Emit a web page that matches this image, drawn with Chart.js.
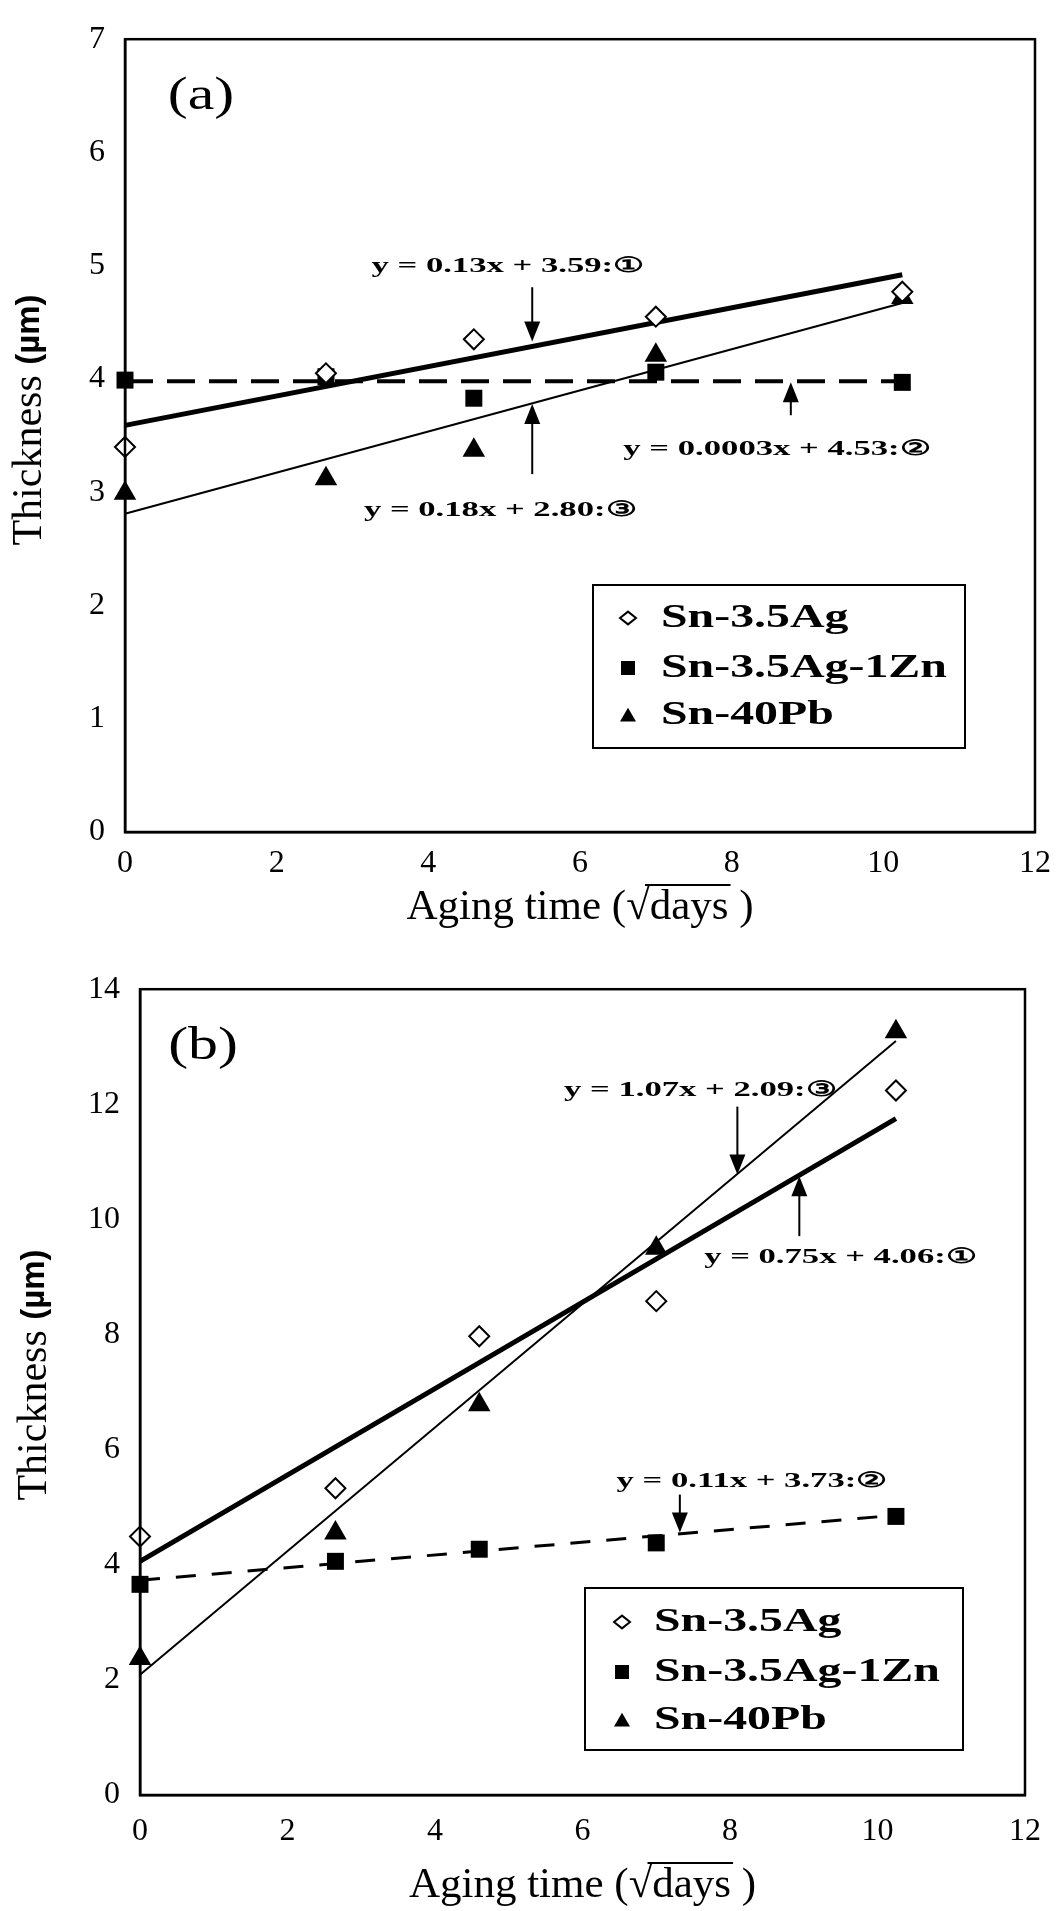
<!DOCTYPE html>
<html>
<head>
<meta charset="utf-8">
<script src="https://cdn.jsdelivr.net/npm/chart.js@4.4.1/dist/chart.umd.min.js"></script>
<style>
  html, body { margin: 0; padding: 0; background: #fff; }
  body { width: 1063px; height: 1911px; position: relative; overflow: hidden; }
  #wrapA { position: absolute; left: 0; top: 0; width: 1063px; height: 950px; }
  #wrapB { position: absolute; left: 0; top: 950px; width: 1063px; height: 961px; }
</style>
</head>
<body>
<div id="wrapA"><canvas id="chartA" width="1063" height="950"></canvas></div>
<div id="wrapB"><canvas id="chartB" width="1063" height="961"></canvas></div>
<script>
// aging time in sqrt(days): 0, 7, 21, 49, 105 days
const agingTime = [0, 2.65, 4.6, 7.0, 10.25];
const alloys = ["Sn-3.5Ag", "Sn-3.5Ag-1Zn", "Sn-40Pb"];
const xTicks = [0, 2, 4, 6, 8, 10, 12];
const yTicksA = [0, 1, 2, 3, 4, 5, 6, 7];
const yTicksB = [0, 2, 4, 6, 8, 10, 12, 14];

// (a) thickness, um
const agA = [3.40, 4.05, 4.35, 4.55, 4.77];
const znA = [3.99, 4.02, 3.83, 4.06, 3.97];
const pbA = [2.99, 3.12, 3.37, 4.21, 4.72];
// (b) thickness, um
const agB = [4.49, 5.33, 7.97, 8.58, 12.24];
const znB = [3.66, 4.06, 4.27, 4.38, 4.84];
const pbB = [2.37, 4.55, 6.78, 9.50, 13.26];

// regression lines, read at the two ends
const fitX = [0, 10.25];
const fitAgA = [3.59, 4.92];
const fitZnA = [3.98, 3.98];
const fitPbA = [2.81, 4.67];
const fitAgB = [4.06, 11.75];
const fitZnB = [3.73, 4.86];
const fitPbB = [2.09, 13.10];

const eqA = ["y = 0.13x + 3.59:①", "y = 0.0003x + 4.53:②", "y = 0.18x + 2.80:③"];
const eqB = ["y = 0.75x + 4.06:①", "y = 0.11x + 3.73:②", "y = 1.07x + 2.09:③"];

// label centre (x, y) and arrow (x, from, to) in data units
const notesA = [
  { t: eqA[0], lx: 5.05, ly: 4.99, ax: 5.37, from: 4.81, to: 4.33 },
  { t: eqA[1], lx: 8.60, ly: 3.38, ax: 8.78, from: 3.68, to: 3.97 },
  { t: eqA[2], lx: 4.95, ly: 2.84, ax: 5.37, from: 3.16, to: 3.78 }
];
const notesB = [
  { t: eqB[0], lx: 9.50, ly: 9.33, ax: 8.94, from: 9.71, to: 10.75 },
  { t: eqB[1], lx: 8.30, ly: 5.44, ax: 7.32, from: 5.22, to: 4.56 },
  { t: eqB[2], lx: 7.60, ly: 12.24, ax: 8.10, from: 11.96, to: 10.78 }
];

const pts = a => agingTime.map((v, i) => ({ x: v, y: a[i] }));
const ends = a => fitX.map((v, i) => ({ x: v, y: a[i] }));

function stretchText(ctx, str, x, y, font, sx, align) {
  ctx.save();
  ctx.font = font;
  ctx.textBaseline = "middle";
  ctx.textAlign = "left";
  const w = ctx.measureText(str).width * sx;
  const x0 = align === "center" ? x - w / 2 : align === "right" ? x - w : x;
  ctx.translate(x0, y);
  ctx.scale(sx, 1);
  ctx.fillStyle = "#000";
  ctx.fillText(str, 0, 0);
  ctx.restore();
}

function marker(ctx, kind, x, y, s) {
  ctx.beginPath();
  if (kind === 0) {
    ctx.moveTo(x - s, y); ctx.lineTo(x, y - s * 0.8); ctx.lineTo(x + s, y); ctx.lineTo(x, y + s * 0.8); ctx.closePath();
    ctx.fillStyle = "#fff"; ctx.fill(); ctx.lineWidth = 2; ctx.strokeStyle = "#000"; ctx.stroke();
  } else if (kind === 1) {
    ctx.fillStyle = "#000"; ctx.fillRect(x - s, y - s, 2 * s, 2 * s);
  } else {
    ctx.moveTo(x - s, y + s * 0.8); ctx.lineTo(x, y - s * 0.9); ctx.lineTo(x + s, y + s * 0.8); ctx.closePath();
    ctx.fillStyle = "#000"; ctx.fill();
  }
}

const extras = {
  id: "extras",
  afterDraw(chart, args, o) {
    const { ctx, chartArea: a, scales: { x, y } } = chart;
    ctx.save();
    // frame round the plot
    ctx.strokeStyle = "#000";
    ctx.lineWidth = 2.5;
    ctx.strokeRect(a.left, a.top, a.right - a.left, a.bottom - a.top);

    // panel tag
    stretchText(ctx, o.panel, o.panelX, o.panelY, '46px "Liberation Serif"', 1.3, "center");

    // equations + arrows
    o.notes.forEach(n => {
      stretchText(ctx, n.t, x.getPixelForValue(n.lx), y.getPixelForValue(n.ly),
        'bold 21px "Liberation Serif", "DejaVu Serif"', 1.65, "center");
      const px = x.getPixelForValue(n.ax);
      const y0 = y.getPixelForValue(n.from), y1 = y.getPixelForValue(n.to);
      const dir = y1 > y0 ? 1 : -1;
      ctx.beginPath();
      ctx.moveTo(px, y0);
      ctx.lineTo(px, y1 - dir * 14);
      ctx.lineWidth = 2;
      ctx.strokeStyle = "#000";
      ctx.stroke();
      ctx.beginPath();
      ctx.moveTo(px, y1);
      ctx.lineTo(px - 8, y1 - dir * 20);
      ctx.lineTo(px + 8, y1 - dir * 20);
      ctx.closePath();
      ctx.fillStyle = "#000";
      ctx.fill();
    });

    // legend box
    const L = o.legend;
    ctx.fillStyle = "#fff";
    ctx.fillRect(L.x, L.y, L.w, L.h);
    ctx.lineWidth = 2;
    ctx.strokeStyle = "#000";
    ctx.strokeRect(L.x, L.y, L.w, L.h);
    alloys.forEach((name, i) => {
      const ry = L.y + L.rows[i];
      marker(ctx, i, L.x + L.mx, ry, i === 1 ? 7 : 8);
      stretchText(ctx, name, L.x + L.tx, ry, 'bold 33px "Liberation Serif"', 1.45, "left");
    });

    // y title
    ctx.save();
    ctx.translate(o.yTitleX, o.yTitleY);
    ctx.rotate(-Math.PI / 2);
    ctx.textBaseline = "middle";
    ctx.fillStyle = "#000";
    ctx.font = '42px "Liberation Serif"';
    const w1 = ctx.measureText("Thickness ").width;
    ctx.font = 'bold 33px "Liberation Sans"';
    const w2 = ctx.measureText("(µm)").width;
    let cx = -(w1 + w2) / 2;
    ctx.font = '42px "Liberation Serif"';
    ctx.fillText("Thickness ", cx, 0);
    ctx.font = 'bold 33px "Liberation Sans"';
    ctx.fillText("(µm)", cx + w1, 0);
    ctx.restore();

    // x title with the radical bar over "days"
    ctx.save();
    ctx.font = '43px "Liberation Serif"';
    ctx.textBaseline = "alphabetic";
    ctx.fillStyle = "#000";
    const parts = ["Aging time (", "√", "days", " )"];
    const ws = parts.map(p => ctx.measureText(p).width);
    const total = ws.reduce((s, v) => s + v, 0);
    let tx = (a.left + a.right) / 2 - total / 2;
    const base = o.xTitleY + 14;
    let barStart = 0, barEnd = 0;
    parts.forEach((p, i) => {
      ctx.fillText(p, tx, base);
      if (i === 1) barStart = tx + ws[i] * 0.8;
      if (i === 2) barEnd = tx + ws[i] + 2;
      tx += ws[i];
    });
    ctx.beginPath();
    ctx.moveTo(barStart, base - 34);
    ctx.lineTo(barEnd, base - 34);
    ctx.lineWidth = 2;
    ctx.strokeStyle = "#000";
    ctx.stroke();
    ctx.restore();

    ctx.restore();
  }
};

function makeChart(id, d, yTicks, yMax, geo, extra) {
  const pointSets = [
    { data: pts(d[0]), pointStyle: "rectRot", pointRadius: 10, backgroundColor: "#fff", borderColor: "#000", borderWidth: 2 },
    { data: pts(d[1]), pointStyle: "rect", pointRadius: 12, backgroundColor: "#000", borderColor: "#000", borderWidth: 0 },
    { data: pts(d[2]), pointStyle: "triangle", pointRadius: 13, backgroundColor: "#000", borderColor: "#000", borderWidth: 0 }
  ].map((s, i) => Object.assign(s, { label: alloys[i], showLine: false, clip: false }));
  const lineSets = [
    { data: ends(d[3]), borderWidth: 5, borderDash: [] },
    { data: ends(d[4]), borderWidth: geo.dashW, borderDash: geo.dash },
    { data: ends(d[5]), borderWidth: 2, borderDash: [] }
  ].map(s => Object.assign(s, { showLine: true, pointRadius: 0, borderColor: "#000", clip: false }));

  return new Chart(document.getElementById(id), {
    type: "scatter",
    data: { datasets: pointSets.concat(lineSets) },
    options: {
      responsive: false,
      animation: false,
      events: [],
      layout: { padding: { left: 0, top: geo.top, right: geo.right, bottom: 0 } },
      plugins: { legend: { display: false }, tooltip: { enabled: false }, extras: extra },
      scales: {
        x: {
          type: "linear", min: 0, max: 12,
          afterBuildTicks: s => { s.ticks = xTicks.map(v => ({ value: v })); },
          afterFit: s => { s.height = geo.xh; },
          grid: { display: false, drawTicks: false },
          border: { display: true, color: "#000", width: 2.5 },
          ticks: { color: "#000", padding: geo.xPad, font: { family: "Liberation Serif", size: 32 } }
        },
        y: {
          type: "linear", min: 0, max: yMax,
          afterBuildTicks: s => { s.ticks = yTicks.map(v => ({ value: v })); },
          afterFit: s => { s.width = geo.yw; },
          grid: { display: false, drawTicks: false },
          border: { display: true, color: "#000", width: 2.5 },
          ticks: { color: "#000", padding: 20, font: { family: "Liberation Serif", size: 32 } }
        }
      }
    },
    plugins: [extras]
  });
}

makeChart("chartA", [agA, znA, pbA, fitAgA, fitZnA, fitPbA], yTicksA, 7,
  { top: 25, right: 5, xh: 118, yw: 125, xPad: 12, dash: [28, 14], dashW: 4 },
  {
    panel: "(a)", panelX: 201, panelY: 97, notes: notesA,
    legend: { x: 593, y: 585, w: 372, h: 163, rows: [33, 83, 130], mx: 35, tx: 68 },
    yTitleX: 30, yTitleY: 420, xTitleY: 905
  });

makeChart("chartB", [agB, znB, pbB, fitAgB, fitZnB, fitPbB], yTicksB, 14,
  { top: 35, right: 38, xh: 116, yw: 140, xPad: 17, dash: [20, 16], dashW: 3 },
  {
    panel: "(b)", panelX: 203, panelY: 97, notes: notesB,
    legend: { x: 585, y: 638, w: 378, h: 162, rows: [34, 84, 132], mx: 37, tx: 69 },
    yTitleX: 35, yTitleY: 425, xTitleY: 933
  });
</script>
</body>
</html>
